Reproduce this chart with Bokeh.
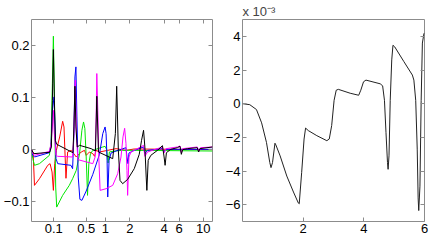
from bokeh.plotting import figure
from bokeh.models import Range1d, FixedTicker, LinearAxis
from bokeh.layouts import row
from bokeh.embed import file_html
from bokeh.resources import INLINE

# ---------------- left panel data (x: position along the sampled axis) ----------------
left_tick_pos = [67, 165, 223, 297, 400, 445, 518]
left_tick_labels = ["0.1", "0.5", "1", "2", "4", "6", "10"]
left_y_ticks = [-0.1, 0.0, 0.1, 0.2]
left_y_labels = ["\u22120.1", "0", "0.1", "0.2"]

red_x = [0, 5, 9, 24, 49, 56, 62, 66, 70, 75, 85, 94, 98, 104, 109, 120, 135, 150, 160, 165,
         170, 175, 185, 190, 195, 205, 230, 255, 285, 310, 546]
red_y = [0, -0.0064, -0.0686, -0.0558, -0.0301, -0.0269, -0.0429, -0.0782, -0.0269, -0.0013,
         0.0244, 0.0545, 0.0436, -0.055, -0.0045, -0.0013, -0.0141, -0.0045, -0.0013, -0.0109,
         -0.0077, -0.0045, -0.0077, -0.0128, -0.0013, -0.0045, -0.0013, 0.0019, -0.0013, 0.0013, 0]

green_x = [0, 4, 9, 24, 54, 59, 63, 66, 69, 73, 76, 94, 114, 124, 135, 145, 152, 157, 161, 165,
           169, 173, 178, 185, 215, 222, 227, 231, 235, 250, 275, 310, 546]
green_y = [0, -0.0173, -0.0301, -0.0269, -0.0109, 0.0147, 0.1269, 0.2179, 0.1109, -0.0718,
           -0.1103, -0.0878, -0.0686, -0.0558, -0.0397, -0.0077, 0.0372, 0.0532, 0.0404, -0.0141,
           -0.0878, -0.0269, -0.0077, -0.0013, 0.0051, 0.0064, 0, -0.0256, -0.0045, -0.0026,
           -0.0013, -0.0013, -0.0026]

blue_x = [0, 4, 9, 54, 59, 63, 68, 71, 74, 79, 119, 124, 128, 131, 134, 137, 141, 146, 152, 165,
          185, 205, 215, 222, 225, 228, 230, 234, 240, 255, 285, 288, 291, 294, 310, 338, 342, 350,
          395, 400, 405, 546]
blue_y = [0, -0.0109, -0.0141, -0.0058, 0.0083, 0.0756, 0.1013, 0.0436, -0.0173, -0.0269,
          -0.0301, -0.0365, 0.0308, 0.1397, 0.159, 0.0628, -0.0526, -0.0955, -0.0974, -0.0795,
          -0.0474, -0.009, 0.0308, 0.0436, 0.0308, -0.0205, -0.091, -0.0205, -0.0064, -0.0026,
          0.0038, -0.0141, -0.0269, -0.0064, -0.0013, 0.0051, -0.0077, -0.0013, 0.0019, -0.0045,
          0.0006, 0.0006]

magenta_x = [0, 4, 9, 54, 59, 63, 66, 69, 74, 79, 124, 128, 132, 136, 140, 185, 192, 195, 197,
             200, 203, 207, 225, 245, 260, 270, 276, 281, 285, 288, 290, 294, 300, 310, 338, 342,
             350, 395, 400, 406, 440, 448, 452, 456, 500, 505, 510, 546]
magenta_y = [0, -0.0077, -0.0109, -0.0032, 0.0115, 0.0436, 0.0756, 0.0308, -0.0109, -0.0128,
             -0.0141, 0.0308, 0.1333, 0.0179, -0.0192, -0.0269, -0.0141, 0.0628, 0.1462, 0.0756,
             -0.0141, -0.0782, -0.075, -0.0686, -0.0462, -0.0141, 0.0244, 0.041, 0.0115, -0.0397,
             -0.0878, -0.0141, -0.0045, -0.0013, 0.0083, -0.0128, -0.0045, 0.0051, -0.0064, 0.0019,
             0.0051, 0.0071, -0.0064, 0.0019, 0.0051, -0.0032, 0.0038, 0.0051]

black_x = [0, 7, 55, 60, 63, 66, 69, 72, 76, 125, 128, 131, 134, 138, 145, 180, 193, 197, 202,
           245, 253, 257, 262, 267, 275, 290, 310, 325, 332, 338, 342, 346, 348, 352, 360, 380,
           395, 400, 403, 407, 420, 440, 448, 452, 456, 470, 500, 504, 508, 546]
black_y = [0, -0.0077, -0.0051, 0.0051, 0.0949, 0.1923, 0.0949, 0.0179, 0.0103, -0.0058, 0.0436,
           0.1218, 0.0436, 0.0051, 0.0083, 0.0019, -0.0026, 0.1026, -0.0045, -0.0173, 0.0308,
           0.1218, -0.0013, -0.059, -0.0654, -0.0571, -0.0365, -0.009, 0.0179, 0.0372, 0.0051,
           -0.0526, -0.0782, -0.0205, -0.0109, -0.0013, 0.0077, -0.0141, -0.0301, -0.0058, 0.0006,
           0.0038, 0.0064, -0.009, 0, 0.0019, 0.0038, -0.0045, 0.0019, 0.0051]

# ---------------- right panel data (y in units of 1e-3) ----------------
right_x = [0.0, 0.24, 0.46, 0.63, 0.79, 0.9, 0.94, 0.99, 1.07, 1.1, 1.24, 1.46, 1.68, 1.84, 1.87,
           1.95, 2.03, 2.08, 2.17, 2.45, 2.78, 2.86, 2.94, 3.02, 3.09, 3.16, 3.55, 3.83, 3.9, 3.99,
           4.07, 4.54, 4.62, 4.68, 4.73, 4.78, 4.8, 4.83, 4.87, 4.92, 4.96, 5.02, 5.32, 5.6, 5.65,
           5.71, 5.76, 5.79, 5.81, 5.85, 5.89, 5.93, 5.98, 6.0]
right_y_e3 = [0, -0.06, -0.35, -1.14, -2.3, -3.5, -3.8, -3.5, -2.35, -2.45, -3.1, -4.3, -5.25,
              -5.9, -5.95, -4.1, -2.1, -1.45, -1.6, -1.9, -2.2, -2.1, -1.3, 0.2, 0.8, 0.85, 0.62,
              0.5, 0.8, 1.3, 1.4, 1.18, 1.06, 0.2, -1.7, -3.5, -3.9, -3.1, 0.2, 2.6, 3.47, 3.37,
              2.5, 1.7, 1.4, 0.2, -2.7, -5.6, -6.35, -4.9, 0.2, 3.6, 4.15, 4.2]
right_x_ticks = [2, 4, 6]
right_y_ticks = [-6, -4, -2, 0, 2, 4]
right_y_labels = ["\u22126", "\u22124", "\u22122", "0", "2", "4"]
right_scale_text = "x 10\u207b\u00b3"

FONT = "Liberation Sans"
FRAME = "#8c8c8c"
FS = "13px"


def style_axis(ax, ticks, labels=None, standoff=2):
    ax.ticker = FixedTicker(ticks=ticks)
    if labels is None:
        ax.major_label_overrides = {t: "" for t in ticks}
    else:
        ax.major_label_overrides = dict(zip(ticks, labels))
    ax.axis_line_color = None
    ax.major_tick_in = 4
    ax.major_tick_out = 0
    ax.major_tick_line_color = FRAME
    ax.minor_tick_line_color = None
    ax.major_label_standoff = standoff
    ax.major_label_text_font = FONT
    ax.major_label_text_font_size = FS
    ax.major_label_text_color = "black"


def make_fig(width, xr, yr, mbl, mbr, xt, xl, yt, yl, ystand, top_axis=True):
    p = figure(width=width, height=241, x_range=xr, y_range=yr,
               output_backend="svg", toolbar_location=None,
               min_border_left=mbl, min_border_right=mbr,
               min_border_top=19, min_border_bottom=20)
    p.grid.visible = False
    p.outline_line_color = FRAME
    p.outline_line_width = 1
    p.background_fill_color = "white"
    p.border_fill_color = "white"
    style_axis(p.xaxis[0], xt, xl, 2)
    style_axis(p.yaxis[0], yt, yl, ystand)
    if top_axis:
        top = LinearAxis()
        style_axis(top, xt)
        p.add_layout(top, "above")
    right = LinearAxis()
    style_axis(right, yt)
    p.add_layout(right, "right")
    return p


p1 = make_fig(216, Range1d(0, 546), Range1d(-0.138, 0.25), 30, 4,
              left_tick_pos, left_tick_labels, left_y_ticks, left_y_labels, 2)
for xs, ys, c in [(red_x, red_y, "#ff0000"), (green_x, green_y, "#00e600"),
                  (blue_x, blue_y, "#0000ff"), (magenta_x, magenta_y, "#ff00ff"),
                  (black_x, black_y, "#000000")]:
    p1.line(xs, ys, line_color=c, line_width=1)

p2 = make_fig(216, Range1d(0, 6), Range1d(-7, 5), 26, 8,
              right_x_ticks, [str(t) for t in right_x_ticks], right_y_ticks, right_y_labels, 2,
              top_axis=False)
p2.line(right_x, right_y_e3, line_color="#222222", line_width=1)
p2.title.text = right_scale_text
p2.title.align = "left"
p2.title.text_font = FONT
p2.title.text_font_size = FS
p2.title.text_font_style = "normal"
p2.title.standoff = 1

layout = row(p1, p2)
open("out.html", "w").write(file_html(layout, INLINE))
